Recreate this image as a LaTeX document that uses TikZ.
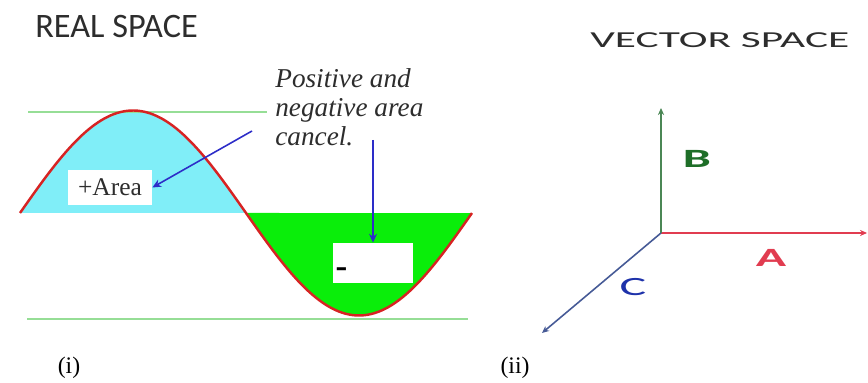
\documentclass[tikz,border=0pt]{standalone}
\usepackage{fontspec}
\setmainfont{Liberation Serif}
\newfontfamily\titlefont{Carlito}
\newfontfamily\widefont[FakeStretch=1.9]{Carlito}
\usepackage{tikz}
\usetikzlibrary{arrows.meta, positioning}
\definecolor{WaveRed}{RGB}{215,35,35}
\definecolor{PosCyan}{RGB}{128,238,248}
\definecolor{NegGreen}{RGB}{10,238,10}
\definecolor{GuideGreen}{RGB}{150,222,150}
\definecolor{PtrBlue}{RGB}{45,45,200}
\definecolor{InkGray}{RGB}{45,45,45}
\definecolor{AxRed}{RGB}{225,60,80}
\definecolor{AxGreen}{RGB}{75,135,85}
\definecolor{AxBlue}{RGB}{70,90,150}
\definecolor{LblGreen}{RGB}{30,110,40}
\definecolor{LblBlue}{RGB}{30,50,170}

\begin{document}
\begin{tikzpicture}[
          guide/.style={GuideGreen, line width=1.1pt},
          wave/.style={WaveRed, line width=1.4pt},
          areabox/.style={fill=white, inner sep=0pt, minimum width=1.68cm,
                          minimum height=0.7cm, font=\fontsize{14.5}{16}\selectfont},
          ptr/.style={-{Stealth[length=5pt, width=4.5pt]}, line width=0.9pt, PtrBlue},
          ax/.style={-{Stealth[length=4pt, width=3.5pt]}, line width=0.9pt},
          axlbl/.style={font=\widefont\bfseries\fontsize{15}{15}\selectfont},
          tag/.style={font=\fontsize{13.5}{14}\selectfont}
        ]
        \useasboundingbox (0,0) rectangle (17.36,7.66);

        % Real space
        \node[anchor=west, inner sep=0pt, InkGray, font=\titlefont\fontsize{19.5}{20}\selectfont]
              (real) at (0.70,7.12) {REAL SPACE};

        \fill[PosCyan] (0.4,3.4) -- plot[domain=0.4:4.92, samples=60]
              (\x, {3.4+2.05*sin((\x-0.4)*360/9.04)}) -- cycle;
        \fill[NegGreen] (4.92,3.4) -- plot[domain=4.92:9.44, samples=60]
              (\x, {3.4+2.05*sin((\x-0.4)*360/9.04)}) -- cycle;
        \draw[guide] (0.56,5.42) -- (5.34,5.42);
        \draw[guide] (0.54,1.28) -- (9.36,1.28);
        \draw[wave] plot[domain=0.4:9.44, samples=140]
              (\x, {3.4+2.05*sin((\x-0.4)*360/9.04)});

        \node[areabox, text=InkGray] (area) at (2.20,3.91) {+Area};
        \node[areabox, minimum width=1.6cm, minimum height=0.8cm] (neg) at (7.46,2.40) {};
        \node[inner sep=0pt, font=\bfseries\fontsize{20}{20}\selectfont]
              (minus) at (6.83,2.20) {-};

        \node[anchor=west, align=left, inner sep=0pt, text=InkGray,
              font=\itshape\fontsize{15.5}{16.5}\selectfont] (note) at (5.50,5.51)
              {Positive and\\negative area\\cancel.};
        \coordinate (n1) at (5.04,5.04);
        \coordinate (n2) at (7.46,4.86);
        \draw[ptr] (n1) -- (area.east);
        \draw[ptr] (n2) -- (neg.north);

        \node[tag] (ti) at (1.38,0.30) {(i)};

        % Vector space
        \node[anchor=west, inner sep=0pt, InkGray, font=\widefont\fontsize{13}{14}\selectfont]
              (vec) at (11.80,6.86) {VECTOR SPACE};

        \coordinate (o) at (13.22,3.00);
        \coordinate (ea) at (17.34,3.00);
        \coordinate (eb) at (13.22,5.50);
        \coordinate (ec) at (10.84,1.00);
        \draw[ax, AxRed] (o) -- (ea);
        \draw[ax, AxGreen] (o) -- (eb);
        \draw[ax, AxBlue] (o) -- (ec);

        \node[axlbl, LblGreen] (lb) at (13.94,4.49) {B};
        \node[axlbl, AxRed] (la) at (15.42,2.50) {A};
        \node[axlbl, LblBlue, font=\widefont\fontsize{15}{15}\selectfont] (lc) at (12.66,1.92) {C};

        \node[tag] (tii) at (10.30,0.30) {(ii)};
      \end{tikzpicture}
\end{document}
